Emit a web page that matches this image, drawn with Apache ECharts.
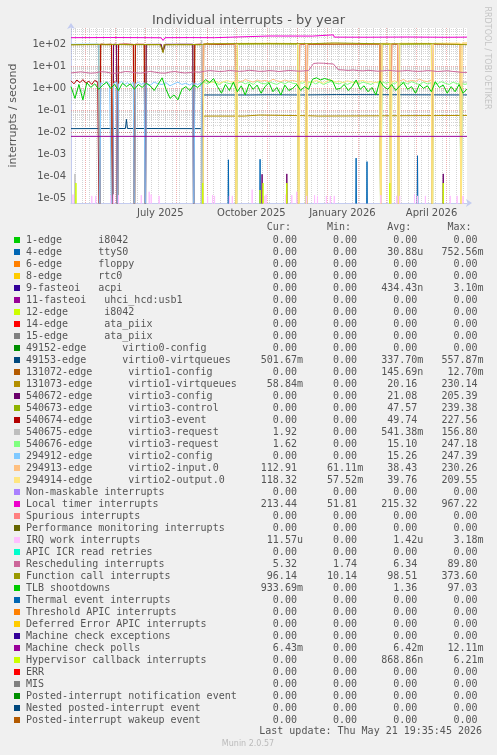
<!DOCTYPE html>
<html><head><meta charset="utf-8">
<script src="https://cdn.jsdelivr.net/npm/echarts@6/dist/echarts.min.js"></script>
<style>html,body{margin:0;padding:0;background:#F0F0F0;}#c{width:497px;height:755px;}</style>
</head><body><div id="c"></div>
<script>
// ---------- time frame (x = days since start of the 400-day window) ----------
const START_UTC = Date.UTC(2025, 3, 16, 19, 35, 45);
const DAY = 86400000;
const END_DAY = 400;
const MONTH_STARTS = [[2025,4],[2025,5],[2025,6],[2025,7],[2025,8],[2025,9],[2025,10],[2025,11],[2026,0],[2026,1],[2026,2],[2026,3],[2026,4]];
const X_LABELS = ['July 2025', 'October 2025', 'January 2026', 'April 2026'];
const X_LABEL_MONTHS = [[2025,6],[2025,9],[2026,0],[2026,3]];
const Y_MIN = 6.2e-6, Y_MAX = 550;
const Y_TICKS = [1e-5, 1e-4, 1e-3, 1e-2, 1e-1, 1, 10, 100];

// ---------- series values: [day, rate] ----------
const S_4EDGE_SPIKES = [[159,5.7e-4],[191,6e-4],[288,6.8e-4],[299,4.7e-4],[350,8.7e-4]];
const S_49153 = [[0,0.0148],[55,0.015],[56,0.039],[57,0.015],[132,0.0148],[133,0.015],[134,0.5],[180,0.5],[200,0.51],[233,0.5],[234,0.52],[268,0.52],[270,0.5],[400,0.502]];
const S_131073 = [[0,95],[28,97],[29,0],[30,96],[41,95],[42,0],[43,94],[46,96],[47,0],[48,97],[63,95],[64,0],[65,96],[74,97],[75,0],[76,95],[91,96],[93,44],[95,96],[123,95],[124,0],[125,96],[132,95],[133,0],[134,0.055],[175,0.055],[176,0.062],[190,0.061],[191,0.055],[240,0.057],[250,0.055],[400,0.0588]];
const S_540672 = [[0,0],[42,0],[43,100],[46,101],[47,0],[75,0],[76,99],[91,100],[93,45],[95,100],[123,101],[124,0],[192,0],[193,1.25e-4],[194,0],[217,0],[218,1.3e-4],[219,0],[312,0],[313,1e-4],[314,0],[375,0],[376,1.3e-4],[377,0],[400,0]];
const S_540673 = [[0,0],[133,0],[134,100],[166,103],[167,0],[168,101],[200,104],[229,102],[230,0],[238,0],[239,100],[280,103],[312,101],[313,0],[314,102],[322,100],[323,0],[331,0],[332,101],[364,103],[365,0],[400,0]];
const S_540674 = [[0,2.2],[3,1.6],[6,2.4],[9,1.8],[12,2.5],[15,1.7],[18,2.1],[21,1.5],[24,2.3],[27,1.9],[28,2.0],[29,0],[30,102],[35,98],[41,101],[42,0],[43,2.0],[46,1.8],[47,0],[48,100],[55,103],[63,99],[64,0],[65,101],[74,100],[75,0],[124,0],[125,99],[132,102],[133,0],[134,104],[150,101],[166,103],[167,0],[229,0],[230,0],[231,102],[237,100],[238,0],[239,101],[270,104],[312,102],[313,0],[322,0],[323,0],[324,103],[330,101],[331,0],[364,0],[365,0],[366,102],[393,104],[394,0],[400,0]];
const S_540675 = [[0,0],[3,0],[4,1.3e-4],[5,0],[131,0],[132,156],[133,0],[394,0],[395,1.9],[400,1.92]];
const S_540676 = [[0,0],[133,0],[134,1.9],[138,1.6],[142,2.1],[146,1.7],[150,1.5],[154,2.0],[158,1.7],[162,1.6],[166,1.8],[167,0],[168,1.7],[172,2.0],[176,1.6],[180,1.9],[184,1.5],[188,2.1],[192,1.7],[196,1.6],[200,2.0],[204,1.7],[208,1.5],[212,1.9],[216,1.6],[220,2.0],[224,1.7],[229,1.6],[230,0],[231,1.8],[234,1.7],[237,2.0],[238,0],[239,1.7],[243,2.0],[247,1.6],[251,1.9],[255,1.5],[259,1.8],[263,2.1],[267,1.7],[271,1.6],[275,1.9],[279,1.5],[283,1.8],[287,2.0],[291,1.6],[295,1.9],[299,1.7],[303,1.5],[307,1.9],[312,1.7],[313,0],[314,2.0],[318,1.7],[322,1.9],[323,0],[324,1.8],[327,1.6],[330,2.0],[331,0],[332,1.7],[336,1.9],[340,1.6],[344,2.0],[348,1.7],[352,1.5],[356,1.9],[360,1.6],[364,1.8],[365,0],[366,1.9],[370,1.6],[374,2.0],[378,1.7],[382,1.5],[386,1.9],[390,1.6],[393,1.8],[394,0],[395,1.7],[398,1.5],[400,1.62]];
const S_294912 = [[0,100],[14,102],[28,101],[29,0],[30,1.8],[33,1.5],[36,2.0],[39,1.6],[41,1.9],[42,0],[43,1.7],[46,1.9],[47,0],[48,1.6],[51,2.1],[54,1.5],[57,1.8],[60,1.4],[63,1.9],[64,0],[65,1.6],[68,1.9],[71,1.5],[74,1.8],[75,0],[76,1.7],[80,1.4],[84,1.9],[88,1.6],[92,1.5],[96,1.8],[100,1.3],[104,1.6],[108,1.9],[112,1.5],[116,1.7],[120,1.4],[123,1.8],[124,0],[125,1.7],[128,1.5],[132,1.8],[133,0],[400,0]];
const S_294913 = [[0,0],[133,0],[134,105],[150,108],[166,104],[167,0],[168,2.3],[172,2.0],[176,2.5],[180,2.2],[184,1.9],[188,2.4],[192,2.1],[196,2.3],[200,2.0],[204,2.6],[208,2.2],[212,2.0],[216,2.4],[220,2.1],[224,2.3],[229,2.0],[230,0],[231,106],[237,104],[238,0],[239,105],[270,107],[312,104],[313,0],[314,108],[322,106],[323,0],[324,105],[330,107],[331,0],[332,2.2],[336,2.5],[340,2.0],[344,2.3],[348,2.1],[352,2.6],[356,2.2],[360,2.0],[364,2.4],[365,0],[366,106],[393,108],[394,0],[395,110],[400,112.9]];
const S_294914 = [[0,0],[133,0],[134,1.9],[138,2.2],[142,1.8],[146,2.1],[150,1.7],[154,2.0],[158,2.3],[162,1.9],[166,2.1],[167,0],[168,110],[200,112],[229,109],[230,0],[231,2.0],[234,2.2],[237,1.9],[238,0],[239,2.1],[243,1.8],[247,2.3],[251,2.0],[255,1.7],[259,2.2],[263,2.4],[267,1.9],[271,2.1],[275,1.8],[279,2.2],[283,2.0],[287,1.7],[291,2.1],[295,2.3],[299,1.9],[303,2.0],[307,1.8],[312,2.1],[313,0],[314,111],[322,110],[323,0],[324,2.0],[327,2.2],[330,1.9],[331,0],[332,112],[364,110],[365,0],[366,111],[393,113],[394,0],[395,115],[400,118.3]];
const S_LOCAL_TIMER = [[0,200],[40,203],[80,200],[91,198],[93,150],[95,200],[120,202],[145,200],[146,236],[200,238],[244,236],[245,265],[265,268],[266,212],[300,210],[340,214],[380,209],[400,212]];
const S_IRQ_WORK_SPIKES = [[2,1.5e-5],[21,1.3e-5],[25,1.3e-5],[40,1.4e-5],[43,1.5e-5],[48,1.4e-5],[71,1.4e-5],[79,2e-5],[81,1.5e-5],[89,1.3e-5],[138,1.3e-5],[143,1.4e-5],[145,1.3e-5],[160,1.3e-5],[163,1.3e-5],[183,2.5e-5],[195,1.3e-5],[197,1.5e-5],[217,1.5e-5],[223,1.4e-5],[228,2e-5],[238,1.3e-5],[246,1.4e-5],[249,1.3e-5],[258,1.3e-5],[262,1.3e-5],[266,1.3e-5],[313,1.4e-5],[329,1.3e-5],[332,1.3e-5],[347,1.5e-5],[350,1.3e-5],[358,1.3e-5],[383,1.3e-5],[390,1.3e-5],[396,1.3e-5]];
const RESCHED_STEP = 5;
const S_RESCHED = [5.0,5.3,5.6,5.2,4.9,5.1,5.7,5.5,5.0,4.8,5.2,5.8,5.6,5.1,4.9,5.3,5.9,5.4,5.0,4.9,5.5,5.8,5.3,5.0,5.2,5.6,5.4,
  6.0,6.4,6.1,5.8,6.0,6.5,6.2,5.9,6.1,6.6,6.3,5.9,6.0,6.4,6.2,5.8,6.1,6.5,6.3,6.0,6.2,6.4,
  13.5,14.0,13.8,13.2,12.8,
  7.0,6.8,6.5,6.8,6.4,6.2,6.6,6.3,6.0,6.2,6.6,6.3,6.0,6.2,6.5,6.1,5.9,6.0,6.4,6.2,5.8,6.0,6.3,5.9,5.6,5.3,5.3];
const S_FUNCTION_CALL = [[0,96],[30,100],[60,97],[90,98],[92,90],[93,42],[94,95],[110,99],[133,97],[136,105],[180,108],[244,107],[245,118],[266,115],[268,106],[320,104],[360,107],[400,96]];
const TLB_STEP = 4;
const S_TLB = [1.2,0.35,1.5,0.3,1.8,1.1,1.6,0.9,1.4,1.9,1.0,1.5,0.8,1.7,1.2,1.6,0.9,1.5,1.1,1.7,1.3,0.8,1.5,3.0,0.9,0.35,0.5,0.3,0.9,1.2,0.8,1.4,1.1,1.6,
  2.5,1.8,2.8,1.2,0.6,1.5,0.8,1.9,0.7,1.3,0.5,1.6,0.9,1.4,0.6,1.2,1.8,0.7,1.1,0.5,1.4,0.8,1.0,1.5,0.8,1.2,0.9,2.6,3.0,2.4,2.8,2.5,2.2,0.9,1.0,1.5,0.8,1.2,2.4,0.9,1.3,0.7,1.1,0.5,2.2,1.2,0.9,1.5,0.8,1.3,1.8,0.9,1.2,0.6,1.5,1.0,1.3,0.7,2.0,1.1,1.4,0.6,1.2,0.7,1.5,0.6,0.93];
const S_MC_POLLS = [[0,0.0066],[400,0.0066]];
const S_HYPERVISOR_SPIKES = [[5,5e-5],[133,5e-5],[191,2.4e-5],[194,5e-5],[218,5e-5],[322,5e-5],[376,5e-5]];

// ---------- legend table ----------
const LEGEND_LABELS = ['1-edge      i8042','4-edge      ttyS0','6-edge      floppy','8-edge      rtc0','9-fasteoi   acpi','11-fasteoi   uhci_hcd:usb1','12-edge      i8042','14-edge      ata_piix','15-edge      ata_piix','49152-edge      virtio0-config','49153-edge      virtio0-virtqueues','131072-edge      virtio1-config','131073-edge      virtio1-virtqueues','540672-edge      virtio3-config','540673-edge      virtio3-control','540674-edge      virtio3-event','540675-edge      virtio3-request','540676-edge      virtio3-request','294912-edge      virtio2-config','294913-edge      virtio2-input.0','294914-edge      virtio2-output.0','Non-maskable interrupts','Local timer interrupts','Spurious interrupts','Performance monitoring interrupts','IRQ work interrupts','APIC ICR read retries','Rescheduling interrupts','Function call interrupts','TLB shootdowns','Thermal event interrupts','Threshold APIC interrupts','Deferred Error APIC interrupts','Machine check exceptions','Machine check polls','Hypervisor callback interrupts','ERR','MIS','Posted-interrupt notification event','Nested posted-interrupt event','Posted-interrupt wakeup event'];
const LEGEND_COLORS = ['#00CC00','#0066B3','#FF8000','#FFCC00','#330099','#990099','#CCFF00','#FF0000','#808080','#008F00','#00487D','#B35A00','#B38F00','#6B006B','#8FB300','#B30000','#BEBEBE','#80FF80','#80C9FF','#FFC080','#FFE680','#AA80FF','#EE00CC','#FF8080','#666600','#FFBFFF','#00FFCC','#CC6699','#999900','#00CC00','#0066B3','#FF8000','#FFCC00','#330099','#990099','#CCFF00','#FF0000','#808080','#008F00','#00487D','#B35A00'];
const Z = '0.00';
const CUR = [Z,Z,Z,Z,Z,Z,Z,Z,Z,Z,'501.67m',Z,'58.84m',Z,Z,Z,'1.92','1.62',Z,'112.91','118.32',Z,'213.44',Z,Z,'11.57u',Z,'5.32','96.14','933.69m',Z,Z,Z,Z,'6.43m',Z,Z,Z,Z,Z,Z];
const MIN = [Z,Z,Z,Z,Z,Z,Z,Z,Z,Z,Z,Z,Z,Z,Z,Z,Z,Z,Z,'61.11m','57.52m',Z,'51.81',Z,Z,Z,Z,'1.74','10.14',Z,Z,Z,Z,Z,Z,Z,Z,Z,Z,Z,Z];
const AVG = [Z,'30.88u',Z,Z,'434.43n',Z,Z,Z,Z,Z,'337.70m','145.69n','20.16','21.08','47.57','49.74','541.38m','15.10','15.26','38.43','39.76',Z,'215.32',Z,Z,'1.42u',Z,'6.34','98.51','1.36',Z,Z,Z,Z,'6.42m','868.86n',Z,Z,Z,Z,Z];
const MAX = [Z,'752.56m',Z,Z,'3.10m',Z,Z,Z,Z,Z,'557.87m','12.70m','230.14','205.39','239.38','227.56','156.80','247.18','247.39','230.26','209.55',Z,'967.22',Z,Z,'3.18m',Z,'89.80','373.60','97.03',Z,Z,Z,Z,'12.11m','6.21m',Z,Z,Z,Z,Z];

// ---------- builders ----------
const toMs = d => START_UTC + d * DAY;
const FLOOR = 1e-9; // a zero rate: rrdtool drops it to the bottom of a log graph
const pts = list => list.map(([d, v]) => [toMs(d), v > 0 ? v : FLOOR]);
const spikes = list => { const o = [[0,0]]; list.forEach(([d, v]) => o.push([d-1,0],[d,v],[d+1,0])); o.push([END_DAY,0]); return pts(o); };
const stepped = (vals, step) => pts(vals.map((v, i) => [i * step, v]));
const monthMs = ([y, m]) => Date.UTC(y, m, 1);

const MONO = 'DejaVu Sans Mono', SANS = 'DejaVu Sans', TXT = '#555555';

const plotSeries = [
  ['4-edge', '#0066B3', spikes(S_4EDGE_SPIKES)],
  ['49153', '#00487D', pts(S_49153)],
  ['131073', '#B38F00', pts(S_131073)],
  ['540672', '#6B006B', pts(S_540672)],
  ['540673', '#8FB300', pts(S_540673)],
  ['540674', '#B30000', pts(S_540674)],
  ['540675', '#BEBEBE', pts(S_540675)],
  ['540676', '#80FF80', pts(S_540676)],
  ['294912', '#80C9FF', pts(S_294912)],
  ['294913', '#FFC080', pts(S_294913)],
  ['294914', '#FFE680', pts(S_294914)],
  ['Local timer', '#EE00CC', pts(S_LOCAL_TIMER)],
  ['IRQ work', '#FFBFFF', spikes(S_IRQ_WORK_SPIKES)],
  ['Rescheduling', '#CC6699', stepped(S_RESCHED, RESCHED_STEP)],
  ['Function call', '#999900', pts(S_FUNCTION_CALL)],
  ['TLB', '#00CC00', stepped(S_TLB, TLB_STEP)],
  ['MC polls', '#990099', pts(S_MC_POLLS)],
  ['Hypervisor', '#CCFF00', spikes(S_HYPERVISOR_SPIKES)]
].map(([name, color, data]) => ({
  name, type: 'line', data, symbol: 'none', showSymbol: false, clip: true, z: 3,
  lineStyle: { color, width: 1 }, itemStyle: { color }, animation: false, silent: true
}));

// grid lines (rrdtool style): minor gray dotted, major red dotted
const gridLines = [];
const minorStyle = { color: 'rgba(170,170,170,0.5)', width: 1, type: [1, 1] };
const majorStyle = { color: 'rgba(225,110,110,0.55)', width: 1, type: [1, 1] };
for (let e = -6; e <= 2; e++) for (let k = 2; k <= 9; k++) {
  const v = k * Math.pow(10, e);
  if (v > Y_MIN && v < Y_MAX) gridLines.push({ yAxis: v, lineStyle: minorStyle });
}
let wk = Date.UTC(2025, 3, 21);
while (wk < toMs(END_DAY)) { gridLines.push({ xAxis: wk, lineStyle: minorStyle }); wk += 7 * DAY; }
Y_TICKS.forEach(v => gridLines.push({ yAxis: v, lineStyle: majorStyle }));
MONTH_STARTS.forEach(m => gridLines.push({ xAxis: monthMs(m), lineStyle: majorStyle }));

const gridSeries = {
  name: 'grid', type: 'line', data: [], z: 1, silent: true, animation: false,
  markLine: { silent: true, symbol: ['none', 'none'], label: { show: false }, animation: false, z: 1, data: gridLines }
};

const xLabelValues = X_LABEL_MONTHS.map(m => monthMs(m) + 15 * DAY);

// legend graphics
const ROW0 = 240, ROW_H = 12, TXT_X = 26;
const fmt = s => (/[a-z]$/i.test(s) ? s : s + ' ').padStart(10);
const graphics = [];
graphics.push({ type: 'text', x: TXT_X, y: 227, style: { text: ' '.repeat(40) + 'Cur:' + ' '.repeat(6) + 'Min:' + ' '.repeat(6) + 'Avg:' + ' '.repeat(6) + 'Max:', font: '10px "' + MONO + '"', fill: TXT, verticalAlign: 'middle', textVerticalAlign: 'middle' } });
LEGEND_LABELS.forEach((lab, i) => {
  const y = ROW0 + i * ROW_H;
  graphics.push({ type: 'rect', shape: { x: 14, y: y - 3, width: 6, height: 6 }, style: { fill: LEGEND_COLORS[i] } });
  graphics.push({ type: 'text', x: TXT_X, y: y, style: { text: lab.padEnd(36) + fmt(CUR[i]) + fmt(MIN[i]) + fmt(AVG[i]) + fmt(MAX[i]), font: '10px "' + MONO + '"', fill: TXT, textVerticalAlign: 'middle', verticalAlign: 'middle' } });
});
graphics.push({ type: 'text', x: 482, y: 731, style: { text: 'Last update: Thu May 21 19:35:45 2026', font: '10px "' + MONO + '"', fill: TXT, align: 'right', textAlign: 'right', verticalAlign: 'middle', textVerticalAlign: 'middle' } });
graphics.push({ type: 'text', x: 248, y: 744, style: { text: 'Munin 2.0.57', font: '8px "' + SANS + '"', fill: '#BBBBBB', align: 'center', textAlign: 'center', verticalAlign: 'middle', textVerticalAlign: 'middle' } });
graphics.push({ type: 'text', x: 487, y: 58, rotation: -Math.PI / 2, style: { text: 'RRDTOOL / TOBI OETIKER', font: '8px "' + SANS + '"', fill: '#C4C4C4', align: 'center', textAlign: 'center', verticalAlign: 'middle', textVerticalAlign: 'middle' } });

const chart = echarts.init(document.getElementById('c'), null, { renderer: 'canvas' });
chart.setOption({
  backgroundColor: '#F0F0F0',
  animation: false,
  title: { text: 'Individual interrupts - by year', left: 'center', top: 9, textStyle: { fontFamily: SANS, fontSize: 13, fontWeight: 'normal', color: TXT } },
  grid: { left: 67, top: 28, width: 400, height: 175, show: true, backgroundColor: '#FFFFFF', borderWidth: 0 },
  xAxis: {
    type: 'value', min: toMs(0), max: toMs(END_DAY),
    axisLine: { show: true, lineStyle: { color: '#C4CCF0', width: 1 }, symbol: ['none', 'arrow'], symbolSize: [6, 6], symbolOffset: [0, 5] },
    axisTick: { show: false }, splitLine: { show: false },
    axisLabel: { customValues: xLabelValues, margin: 5, fontFamily: SANS, fontSize: 10, color: TXT,
      formatter: v => { const i = xLabelValues.indexOf(v); return i >= 0 ? X_LABELS[i] : ''; } }
  },
  yAxis: {
    type: 'log', min: Y_MIN, max: Y_MAX, logBase: 10,
    name: 'interrupts / second', nameLocation: 'middle', nameGap: 52,
    nameTextStyle: { fontFamily: SANS, fontSize: 11, color: TXT },
    axisLine: { show: true, lineStyle: { color: '#C4CCF0', width: 1 }, symbol: ['none', 'arrow'], symbolSize: [6, 6], symbolOffset: [0, 5] },
    axisTick: { show: false }, splitLine: { show: false }, minorSplitLine: { show: false },
    axisLabel: { customValues: Y_TICKS, margin: 5, fontFamily: SANS, fontSize: 10, color: TXT,
      formatter: v => { const e = Math.round(Math.log10(v)); return '1e' + (e < 0 ? '-' : '+') + String(Math.abs(e)).padStart(2, '0'); } }
  },
  series: [gridSeries].concat(plotSeries),
  graphic: graphics
});
</script></body></html>
